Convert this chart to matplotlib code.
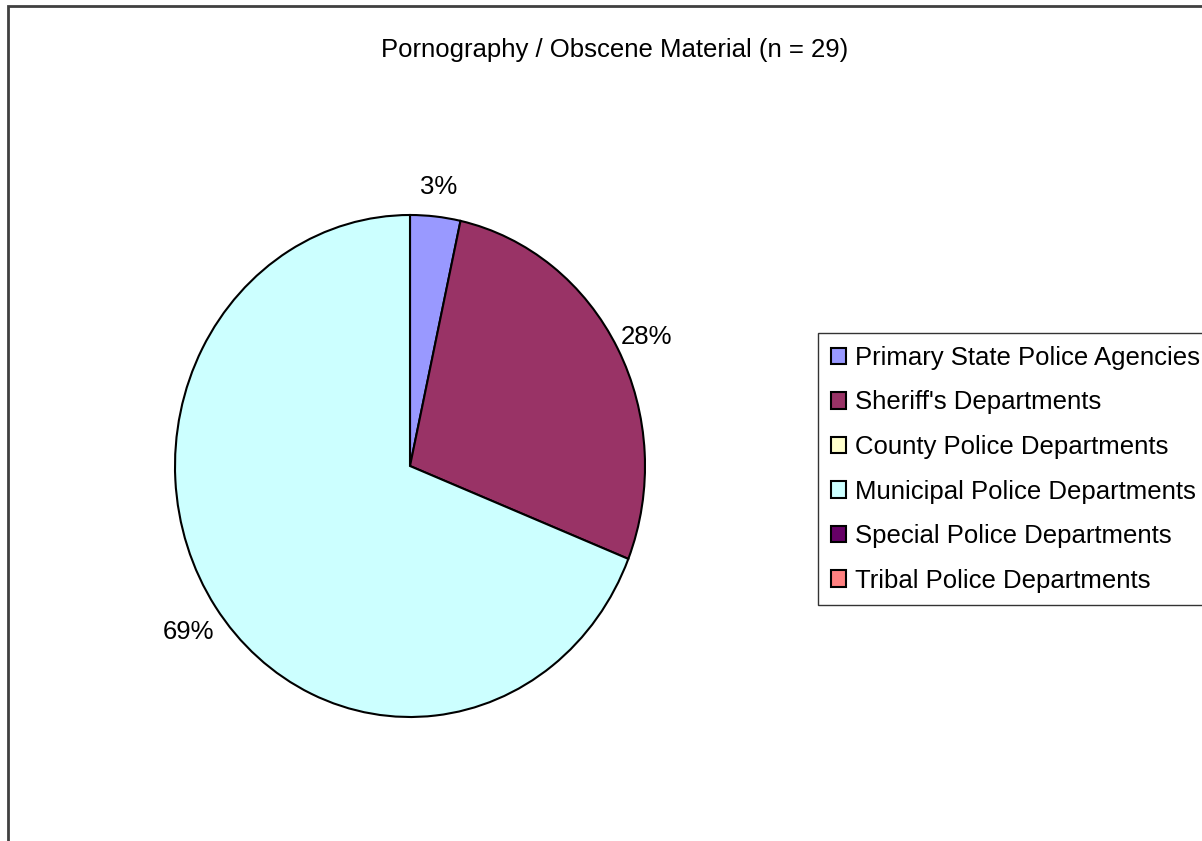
import matplotlib.pyplot as plt
from matplotlib.patches import Rectangle, Patch

plt.rcParams['font.family'] = ['Liberation Sans', 'DejaVu Sans']

categories = ["Primary State Police Agencies", "Sheriff's Departments",
              "County Police Departments", "Municipal Police Departments",
              "Special Police Departments", "Tribal Police Departments"]
counts = [1, 8, 0, 20, 0, 0]
colours = ["#9999FF", "#993366", "#FFFFCC", "#CCFFFF", "#660066", "#FF8080"]
title = "Pornography / Obscene Material (n = 29)"

W, H = 1202, 841
fs = 18.5
fig = plt.figure(figsize=(W / 100, H / 100), dpi=100)

# outer chart border, cut off at right and bottom like the original
fig.patches.append(Rectangle((8 / W, -0.2), 1.2, 1 - 6 / H + 0.2,
                             transform=fig.transFigure, fill=False,
                             edgecolor="#404040", linewidth=2))

fig.text(615 / W, 1 - 50 / H, title, ha="center", va="center", fontsize=fs)

# pie is slightly taller than wide in the original
ax = fig.add_axes([175 / W, (H - 717) / H, 470 / W, 502 / H])
vals = [c for c in counts if c > 0]
cols = [colours[i] for i, c in enumerate(counts) if c > 0]
wedges, texts, autotexts = ax.pie(
    vals, colors=cols, startangle=90, counterclock=False,
    autopct=lambda p: "{:.0f}%".format(p), pctdistance=1.14,
    wedgeprops=dict(edgecolor="black", linewidth=1.5),
    textprops=dict(fontsize=fs))
for t in autotexts:
    t.set_y(t.get_position()[1] - 0.02)
ax.set_aspect("auto")
ax.set_xlim(-1, 1)
ax.set_ylim(-1, 1)

handles = [Patch(facecolor=c, edgecolor="black", linewidth=1.5) for c in colours]
leg = fig.legend(handles, categories, loc="upper left", mode="expand",
                 bbox_to_anchor=(818 / W, 1 - 333 / H, 0.4, 0), borderaxespad=0,
                 fontsize=fs, frameon=True, fancybox=False,
                 handlelength=0.6, handleheight=0.6, handletextpad=0.35,
                 labelspacing=0.8, borderpad=0.5)
leg.get_frame().set_edgecolor("black")
leg.get_frame().set_linewidth(1)

fig.savefig("out.png", dpi=100)
